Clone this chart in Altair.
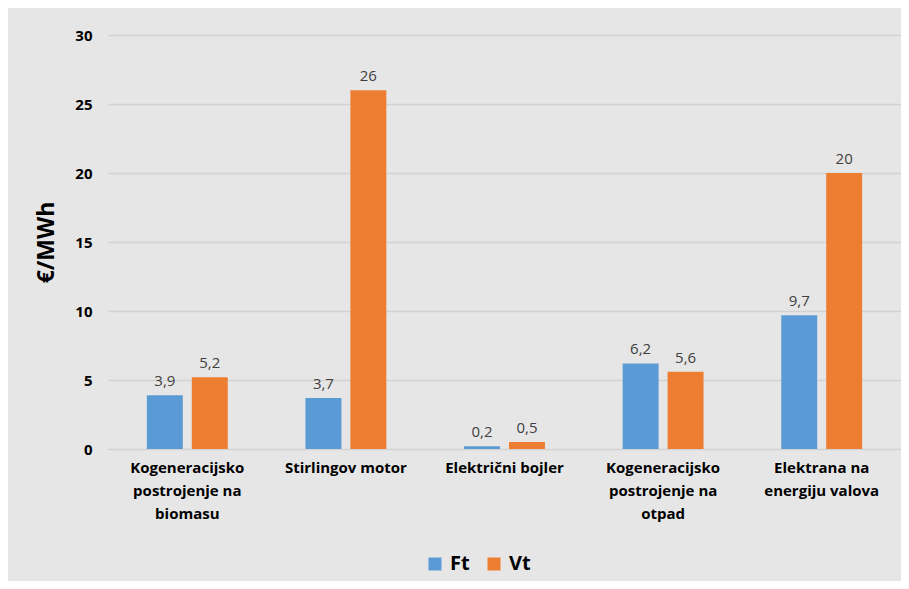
import altair as alt
import pandas as pd

categories = [
    "Kogeneracijsko|postrojenje na|biomasu",
    "Stirlingov motor",
    "Električni bojler",
    "Kogeneracijsko|postrojenje na|otpad",
    "Elektrana na|energiju valova",
]
series = ["Ft", "Vt"]
ft_values = [3.9, 3.7, 0.2, 6.2, 9.7]
vt_values = [5.2, 26, 0.5, 5.6, 20]
colors = ["#5B9BD5", "#ED7D31"]

rows = []
for c, f, v in zip(categories, ft_values, vt_values):
    rows.append({"cat": c, "series": "Ft", "value": f})
    rows.append({"cat": c, "series": "Vt", "value": v})
df = pd.DataFrame(rows)

FONT = "Open Sans"

x = alt.X(
    "cat:N",
    sort=categories,
    title=None,
    scale=alt.Scale(paddingInner=0.49, paddingOuter=0.245),
    axis=alt.Axis(
        labelExpr="split(datum.label, '|')",
        labelAngle=0,
        labelFont=FONT,
        labelFontSize=15,
        labelFontWeight="bold",
        labelColor="#000000",
        labelPadding=11,
        labelLineHeight=23,
        labelBaseline="top",
        ticks=False,
        domain=False,
        grid=False,
    ),
)
xo = alt.XOffset(
    "series:N",
    sort=series,
    scale=alt.Scale(paddingInner=0.2, paddingOuter=0),
)
y = alt.Y(
    "value:Q",
    scale=alt.Scale(domain=[0, 30]),
    title="€/MWh",
    axis=alt.Axis(
        values=[0, 5, 10, 15, 20, 25, 30],
        labelFont=FONT,
        labelFontSize=15,
        labelFontWeight="bold",
        labelColor="#000000",
        labelPadding=16,
        titleFont=FONT,
        titleFontSize=23,
        titleFontWeight="bold",
        titleColor="#000000",
        titlePadding=16,
        ticks=False,
        domain=False,
        gridColor="#D2D2D2",
        gridWidth=1.5,
    ),
)
color = alt.Color(
    "series:N",
    sort=series,
    scale=alt.Scale(domain=series, range=colors),
    legend=alt.Legend(
        title=None,
        orient="none",
        direction="horizontal",
        legendX=317,
        legendY=519,
        symbolType="square",
        symbolSize=169,
        symbolStrokeWidth=0,
        labelFont=FONT,
        labelFontSize=20,
        labelFontWeight="bold",
        labelColor="#000000",
        labelOffset=5,
        columnPadding=14,
    ),
)

bars = alt.Chart(df).mark_bar().encode(x=x, xOffset=xo, y=y, color=color)
labels = (
    alt.Chart(df)
    .transform_calculate(lbl="replace(toString(datum.value), '.', ',')")
    .mark_text(dy=-9, baseline="alphabetic", font=FONT, fontSize=15, color="#404040")
    .encode(x=x, xOffset=xo, y=y, text="lbl:N")
)

chart = (
    alt.layer(bars, labels)
    .properties(
        width=793,
        height=414,
        padding={"left": 100, "top": 27, "right": 0, "bottom": 132},
        autosize=alt.AutoSizeParams(type="none"),
        background="#E7E6E6",
    )
    .configure_view(stroke=None)
)

chart.save("out.html", embed_options={"renderer": "svg", "actions": False})
